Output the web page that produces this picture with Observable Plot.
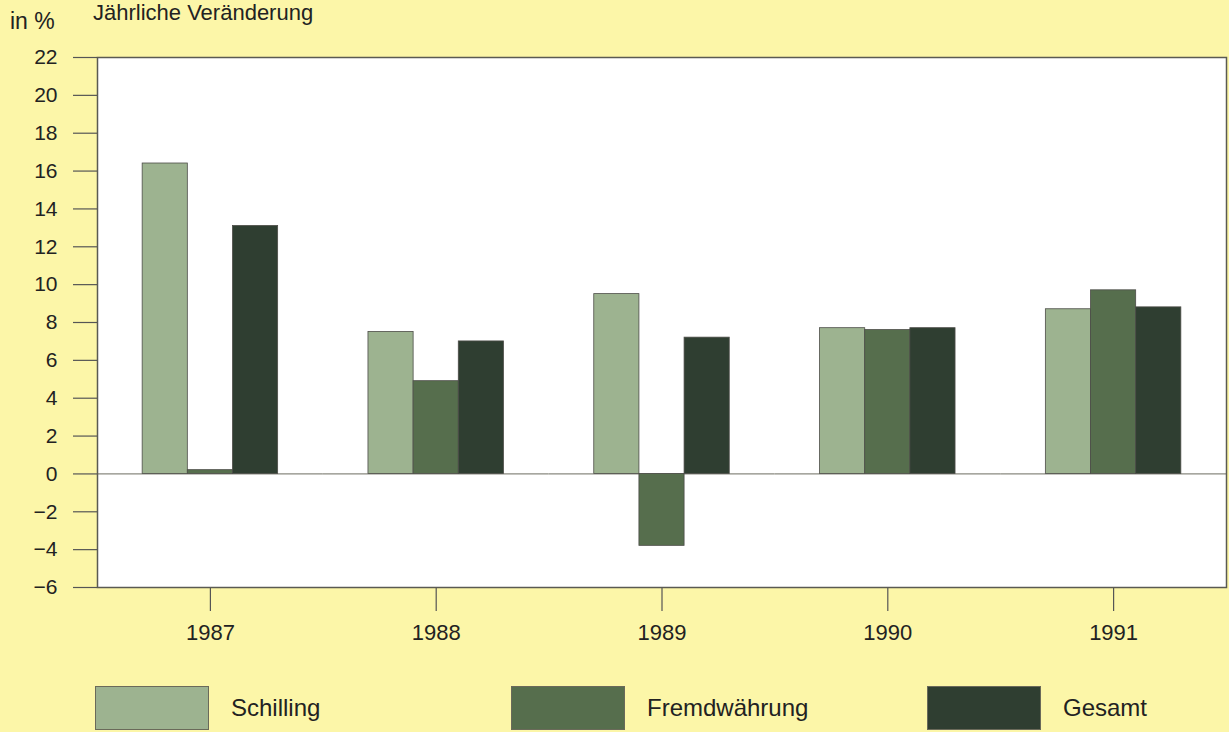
<!DOCTYPE html>
<html>
<head>
<meta charset="utf-8">
<script src="https://cdn.jsdelivr.net/npm/d3@7"></script>
<script src="https://cdn.jsdelivr.net/npm/@observablehq/plot@0.6"></script>
<style>
  html, body { margin: 0; padding: 0; }
  body { width: 1229px; height: 732px; overflow: hidden; background: #fcf6a8; position: relative;
         font-family: "Liberation Sans", Arial, Helvetica, sans-serif; color: #222; }
  #title { position: absolute; left: 93px; top: 1px; font-size: 22px; line-height: 24px; white-space: nowrap; }
  #unit { position: absolute; left: 10px; top: 10px; font-size: 23px; line-height: 23px; }
  #chart { position: absolute; left: 0; top: 0; }
  #legend { position: absolute; left: 95px; top: 686px; display: flex; }
  .item { display: flex; align-items: center; width: 416px; }
  .swatch { width: 112px; height: 42px; border: 1px solid #6a6a5a; }
  .label { margin-left: 22px; font-size: 24px; }
</style>
</head>
<body>
<div id="title">Jährliche Veränderung</div>
<div id="unit">in %</div>
<div id="chart"></div>
<div id="legend"></div>
<script>
const years = ["1987", "1988", "1989", "1990", "1991"];
const series = ["Schilling", "Fremdwährung", "Gesamt"];
const schilling = [16.4, 7.5, 9.5, 7.7, 8.7];
const fremdwaehrung = [0.2, 4.9, -3.8, 7.6, 9.7];
const gesamt = [13.1, 7.0, 7.2, 7.7, 8.8];
const yTicks = [-6, -4, -2, 0, 2, 4, 6, 8, 10, 12, 14, 16, 18, 20, 22];
const colors = ["#9db390", "#566e4d", "#2f3e31"];

const seriesValues = [schilling, fremdwaehrung, gesamt];
const data = years.flatMap((year, i) =>
  series.map((s, j) => ({year, series: s, value: seriesValues[j][i]}))
);

const chart = Plot.plot({
  width: 1229,
  height: 660,
  marginTop: 57,
  marginLeft: 97,
  marginRight: 3,
  marginBottom: 73,
  style: {background: "transparent", fontFamily: "'Liberation Sans', Arial, Helvetica, sans-serif", fontSize: "22px", color: "#222", overflow: "visible"},
  fx: {domain: years, padding: 0, round: false, axis: null},
  x: {domain: series, paddingInner: 0, paddingOuter: 1, round: false, axis: null},
  y: {domain: [-6, 22], axis: null},
  color: {domain: series, range: colors},
  marks: [
    Plot.frame({facet: "super", fill: "white", stroke: null}),
    Plot.ruleY([0], {stroke: "#8a8a80", strokeWidth: 1.2}),
    Plot.barY(data, {fx: "year", x: "series", y: "value", fill: "series", stroke: "#4d4d48", strokeWidth: 0.8}),
    Plot.axisY(yTicks, {tickSize: 24, tickPadding: 16, label: null, stroke: "#555", strokeWidth: 1.2, fill: "#222", fontSize: 21}),
    Plot.axisFx({anchor: "bottom", tickSize: 24, tickPadding: 13, label: null, stroke: "#555", strokeWidth: 1.2, fill: "#222", fontSize: 22}),
    Plot.frame({facet: "super", stroke: "#5a5a52", strokeWidth: 1.5})
  ]
});
document.getElementById("chart").appendChild(chart);

const legend = document.getElementById("legend");
series.forEach((s, j) => {
  const item = document.createElement("div");
  item.className = "item";
  const sw = document.createElement("div");
  sw.className = "swatch";
  sw.style.background = colors[j];
  const lab = document.createElement("span");
  lab.className = "label";
  lab.textContent = s;
  item.appendChild(sw);
  item.appendChild(lab);
  legend.appendChild(item);
});
</script>
</body>
</html>
